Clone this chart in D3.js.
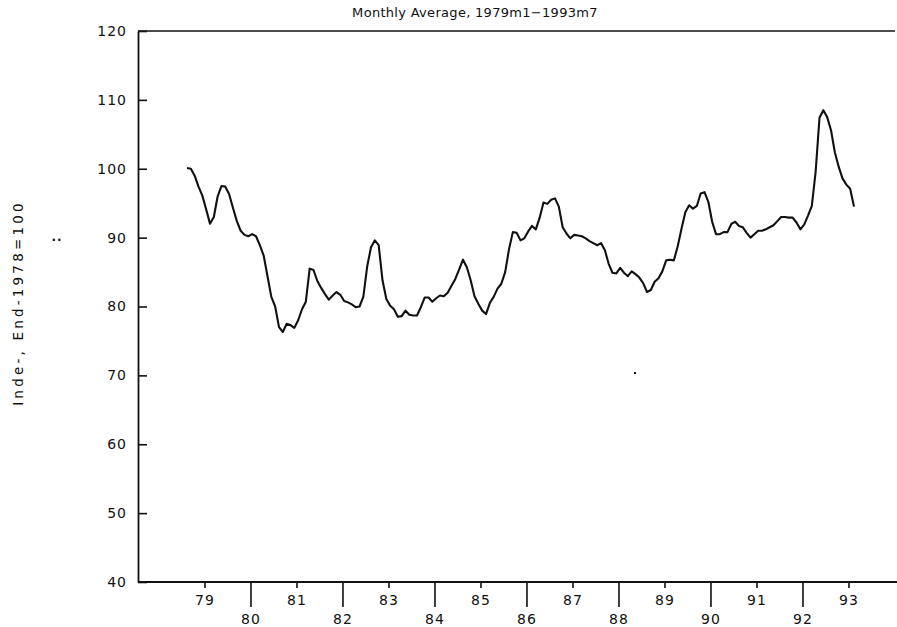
<!DOCTYPE html>
<html>
<head>
<meta charset="utf-8">
<script src="https://d3js.org/d3.v7.min.js"></script>
<style>
body{margin:0;background:#fff;}
text{font-family:"DejaVu Sans",sans-serif;fill:#111;}
</style>
</head>
<body>
<div id="chart"></div>
<script>

// monthly index values, 1979m1 .. 1993m7
var startYear=1979
var values=[
100.1,100.0,99.0,97.4,96.1,94.1,92.0,93.0,96.0,97.5,97.4,96.3,
94.3,92.4,91.0,90.4,90.2,90.5,90.2,88.9,87.4,84.4,81.4,80.0,
77.0,76.3,77.5,77.3,76.9,78.0,79.6,80.7,85.5,85.3,83.7,82.7,
81.8,81.0,81.6,82.1,81.7,80.8,80.6,80.3,79.9,80.0,81.4,85.8,
88.6,89.6,88.9,83.8,81.1,80.1,79.6,78.5,78.6,79.4,78.8,78.7,
78.7,79.9,81.3,81.3,80.7,81.2,81.6,81.5,82.0,83.0,84.0,85.4,
86.8,85.7,83.8,81.5,80.4,79.4,78.9,80.5,81.4,82.6,83.3,85.0,
88.3,90.8,90.7,89.6,89.9,90.9,91.7,91.2,92.9,95.1,94.9,95.5,
95.7,94.5,91.5,90.6,89.9,90.4,90.3,90.2,89.9,89.5,89.2,88.9,
89.2,88.2,86.2,84.9,84.8,85.6,84.9,84.4,85.1,84.7,84.2,83.4,
82.1,82.4,83.6,84.1,85.1,86.7,86.8,86.7,88.7,91.3,93.7,94.7,
94.2,94.6,96.4,96.6,95.2,92.3,90.5,90.5,90.8,90.8,92.0,92.3,
91.7,91.5,90.7,90.0,90.5,91.0,91.0,91.2,91.5,91.8,92.4,93.0,
93.0,92.9,92.9,92.2,91.2,91.9,93.2,94.6,99.6,107.4,108.5,107.5,
105.6,102.4,100.3,98.6,97.7,97.1,94.5
]

var yTicks=[40,50,60,70,80,90,100,110,120]
var oddYears=[79,81,83,85,87,89,91,93]
var evenYears=[80,82,84,86,88,90,92]

var titleText="Monthly Average, 1979m1\u22121993m7"
var yLabel="Inde-, End-1978=100"

var width=897, height=627
var plotLeft=138, plotTop=31, plotBottom=582, plotRight=854, lineRight=897

var svg=d3.select("#chart").append("svg")
    .attr("width",width)
    .attr("height",height)

// time in years, month m of year y at y+(m-1)/12
var x=d3.scaleLinear()
    .domain([startYear,startYear+(values.length-1)/12])
    .range([187,plotRight])

var y=d3.scaleLinear()
    .domain([40,120])
    .range([plotBottom,plotTop])

var tickOff=0.38 // ticks sit a little into each year

// frame: top rule
svg.append("line")
    .attr("x1",plotLeft).attr("x2",895)
    .attr("y1",plotTop).attr("y2",plotTop)
    .style("stroke","#111").style("stroke-width",1.6)

// left axis, ticks pointing inward
var yAxis=svg.append("g")
    .attr("transform","translate("+plotLeft+",0)")
    .call(d3.axisLeft(y).tickValues(yTicks).tickSize(-9).tickSizeOuter(0).tickPadding(11))
yAxis.select(".domain").style("stroke","#111").style("stroke-width",1.8)

// bottom axis: odd years short ticks, even years long ticks lower labels
var xOdd=svg.append("g")
    .attr("transform","translate(0,"+plotBottom+")")
    .call(d3.axisBottom(x)
        .tickValues(oddYears.map(function(d){return 1900+d+tickOff}))
        .tickFormat(function(d){return String(Math.floor(d)-1900)})
        .tickSize(6).tickSizeOuter(0).tickPadding(7))
xOdd.select(".domain").remove()

var xEven=svg.append("g")
    .attr("transform","translate(0,"+plotBottom+")")
    .call(d3.axisBottom(x)
        .tickValues(evenYears.map(function(d){return 1900+d+tickOff}))
        .tickFormat(function(d){return String(Math.floor(d)-1900)})
        .tickSize(25).tickSizeOuter(0).tickPadding(7))
xEven.select(".domain").remove()

svg.selectAll(".tick line").style("stroke","#111").style("stroke-width",1.6)
svg.selectAll(".tick text")
    .style("font-size","14px")
    .style("letter-spacing","1px")
    .style("fill","#111")

svg.append("line")
    .attr("x1",plotLeft).attr("x2",lineRight)
    .attr("y1",plotBottom).attr("y2",plotBottom)
    .style("stroke","#111").style("stroke-width",1.8)

// the series
var line=d3.line()
    .x(function(d,i){return x(startYear+i/12)})
    .y(function(d){return y(d)})

svg.append("path")
    .datum(values)
    .attr("d",line)
    .style("fill","none")
    .style("stroke","#111")
    .style("stroke-width",2.1)
    .style("stroke-linejoin","round")

// title
svg.append("text")
    .attr("x",475).attr("y",17)
    .attr("text-anchor","middle")
    .style("font-size","13px")
    .style("letter-spacing","0.3px")
    .text(titleText)

// y label, rotated
svg.append("text")
    .attr("transform","translate(23,303) rotate(-90)")
    .attr("text-anchor","middle")
    .style("font-size","13.5px")
    .style("letter-spacing","3.2px")
    .text(yLabel)

// stray marks from the scan
svg.append("text")
    .attr("x",57).attr("y",241)
    .attr("text-anchor","middle")
    .style("font-size","12px")
    .style("font-weight","bold")
    .style("letter-spacing","1px")
    .text("..")
svg.append("rect")
    .attr("x",634).attr("y",372).attr("width",2).attr("height",2)
    .style("fill","#111")

</script>
</body>
</html>
